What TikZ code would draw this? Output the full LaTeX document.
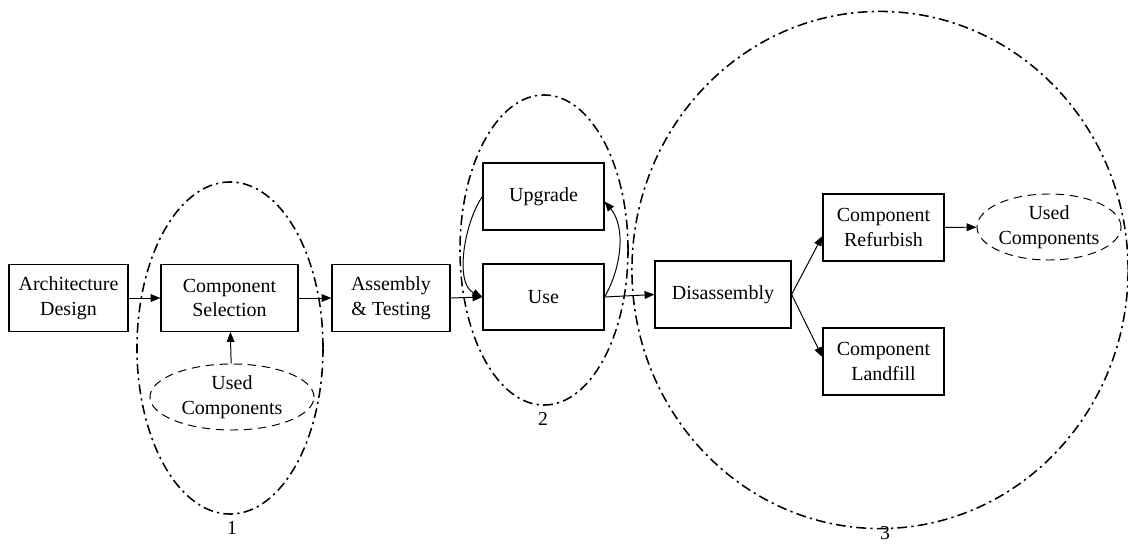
\documentclass[tikz,border=0pt]{standalone}
\usepackage{fontspec}
\setmainfont{Liberation Serif}
\usetikzlibrary{arrows.meta,shapes.geometric,calc}

\begin{document}
\begin{tikzpicture}[x=0.025cm,y=0.025cm,
  font=\fontsize{14.2}{17.6}\selectfont,
  box/.style={draw,line width=0.8pt,align=center,inner sep=0pt,
    minimum width=3.025cm,minimum height=1.675cm},
  usedpart/.style={ellipse,draw,dashed,dash pattern=on 6pt off 4pt,
    line width=0.7pt,align=center,inner sep=0pt,minimum height=1.65cm},
  stage/.style={ellipse,draw,line width=1.1pt,inner sep=0pt,
    dash pattern=on 7pt off 3pt on 1.6pt off 3pt},
  arrow/.style={line width=0.7pt,-{Triangle[length=7pt,width=5.5pt]}},
  num/.style={inner sep=0pt,font=\fontsize{14}{16}\selectfont}
]
\useasboundingbox (0,0) rectangle (1128,-544);

% stage outlines
\node[stage,minimum width=4.65cm,minimum height=8.3cm] (g1) at (230,-348) {};
\node[stage,minimum width=4.2cm,minimum height=7.75cm] (g2) at (544,-250) {};
\node[stage,minimum width=12.4cm,minimum height=12.925cm] (g3) at (880,-270) {};
\node[num] (n1) at (232,-528) {1};
\node[num] (n2) at (543,-419) {2};
\node[num] (n3) at (885,-533) {3};

% process steps
\node[box,minimum width=2.975cm] (ad) at (68.5,-298) {Architecture\\Design};
\node[box,minimum width=3.425cm] (cs) at (229.5,-298) {Component\\Selection};
\node[box,minimum width=2.95cm] (at) at (391,-298) {Assembly\\\&\ Testing};
\node[box] (up) at (543.5,-196.5) {Upgrade};
\node[box,minimum height=1.65cm] (use) at (543.5,-297) {Use};
\node[box,minimum width=3.4cm] (dis) at (723,-294.5) {Disassembly};
\node[box] (ref) at (883.5,-227.5) {Component\\Refurbish};
\node[box] (land) at (883.5,-361.5) {Component\\Landfill};

% reused parts
\node[usedpart,minimum width=4.1cm] (uc1) at (232,-397) {Used\\Components};
\node[usedpart,minimum width=3.6cm] (uc2) at (1049,-227) {Used\\Components};

% connectors
\draw[arrow] (ad) -- (cs);
\draw[arrow] (cs) -- (at);
\draw[arrow] (at.east) -- (use.west);
\draw[arrow] (uc1) -- (cs);
\draw[arrow] (up.west) to[out=235,in=155,looseness=0.8] (use.west);
\draw[arrow] (use.east) to[out=60,in=-50,looseness=0.9] ($(up.east)+(0,-5)$);
\draw[arrow] (use.east) -- (dis.west);
\draw[arrow] (dis.east) -- ($(ref.west)!0.25!(ref.south west)$);
\draw[arrow] (dis.east) -- ($(land.west)!0.13!(land.north west)$);
\draw[arrow] (ref) -- (uc2);
\end{tikzpicture}
\end{document}
